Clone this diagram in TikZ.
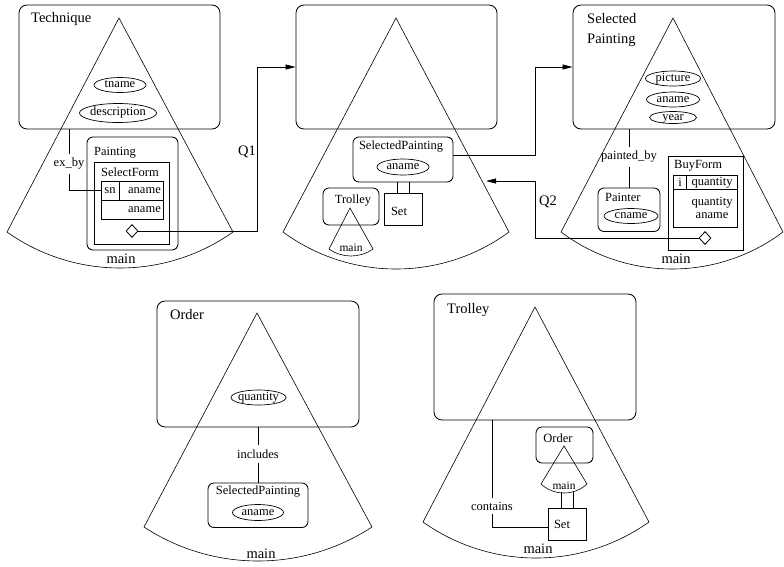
\documentclass[tikz,border=0pt]{standalone}
\usepackage{fontspec}
\setmainfont{Liberation Serif}
\usetikzlibrary{shapes.geometric,arrows.meta}
\newcommand\drawcone[6]{%
  \pgfmathsetmacro\conerad{(#4*#4+#6*#6)/(2*#6)}%
  \pgfmathsetmacro\coneang{asin(#4/\conerad)}%
  \draw[cone] (#1,#2) -- (#3-#4,#5) arc[start angle=90+\coneang, end angle=90-\coneang, radius=\conerad] -- cycle;
}
\begin{document}
\begin{tikzpicture}[x=1pt,y=-1pt,
  box/.style={draw, line width=0.85pt, rectangle, inner sep=0pt},
  panel/.style={box, rounded corners=8pt},
  rbox/.style={box, rounded corners=6pt},
  cone/.style={line width=0.6pt},
  conn/.style={line width=0.8pt},
  arr/.style={conn, -{Triangle[length=10pt,width=5pt]}},
  big/.style={font=\fontsize{14.5}{17}\selectfont, inner sep=0pt},
  lab/.style={font=\fontsize{12.5}{13}\selectfont, inner sep=0pt},
  small/.style={font=\fontsize{11.5}{12}\selectfont, inner sep=0pt},
  attr/.style={draw, line width=0.7pt, ellipse, inner xsep=-6pt, inner ysep=0pt, text height=5.5pt, text depth=0pt, minimum height=15pt, font=\fontsize{12.5}{13}\selectfont},
  gapl/.style={lab, inner ysep=4pt},
  dmd/.style={draw, line width=0.8pt, diamond, inner sep=0pt, minimum width=12pt, minimum height=13pt},
]
\useasboundingbox (0,0) rectangle (784,566);

% ---------------- Panel 1: Technique ----------------
\node[panel, minimum width=201pt, minimum height=124pt] (tech) at (119.5,67) {};
\node[big, anchor=west] (techt) at (31,19) {Technique};
\drawcone{119}{18}{120}{113}{232}{36}
\node[attr, minimum width=52pt] (tname) at (120,85) {tname};
\node[attr, minimum width=77pt, minimum height=19pt] (descr) at (118,113) {description};
\node[rbox, minimum width=91pt, minimum height=113pt] (paint) at (132.5,193.5) {};
\node[lab, anchor=west] (paintt) at (94,153) {Painting};
\node[box, minimum width=75pt, minimum height=82pt] (sform) at (131.5,203) {};
\node[lab, anchor=west] (sformt) at (101,172) {SelectForm};
\node[box, minimum width=62pt, minimum height=38.5pt] (sftab) at (132,200.25) {};
\draw[conn] (sftab.west |- 0,200) -- (sftab.east |- 0,200);
\draw[conn] (119,181) -- (119,200);
\node[lab] (sn) at (110,190.5) {sn};
\node[lab, anchor=east] (an1) at (161,190.5) {aname};
\node[lab, anchor=east] (an2) at (161,210) {aname};
\node[dmd] (d1) at (132,231) {};
\node[gapl] (exby) at (69,164) {ex\_by};
\draw[conn] (tech.south -| exby) -- (exby.north);
\draw[conn] (exby.south) |- (sftab.west |- sn);
\node[big] (main1) at (121,259) {main};

% ---------------- Panel 2 ----------------
\node[panel, minimum width=201pt, minimum height=124pt] (mid) at (396.5,67) {};
\drawcone{396}{18}{396}{113}{232}{37}
\node[rbox, minimum width=100pt, minimum height=45pt] (spm) at (403,159.5) {};
\node[lab] (spmt) at (401,147) {SelectedPainting};
\node[attr, minimum width=52pt, minimum height=16pt] (anm) at (403,167) {aname};
\node[box, minimum width=38pt, minimum height=32pt] (setm) at (403,209) {};
\node[lab] (setmt) at (399,211) {Set};
\draw[conn] ([xshift=-6pt]spm.south) -- ([xshift=-6pt]setm.north);
\draw[conn] ([xshift=6pt]spm.south) -- ([xshift=6pt]setm.north);
\node[rbox, minimum width=56pt, minimum height=37pt] (trm) at (351,206.5) {};
\node[lab] (trmt) at (353,201) {Trolley};
\drawcone{350}{208}{351}{22}{249}{7}
\node[small] (mainm) at (351,248) {main};
\coordinate (q2end) at (486,181);

% ---------------- Panel 3: Selected Painting ----------------
\node[panel, minimum width=202pt, minimum height=124pt] (selp) at (674,67) {};
\node[big, align=left, anchor=north west, font=\fontsize{14.5}{20}\selectfont] (selpt) at (587,13) {Selected\\Painting};
\drawcone{673}{18}{672}{111}{232}{37}
\node[attr, minimum width=55pt] (pic) at (673,78.5) {picture};
\node[attr, minimum width=53pt] (an3) at (673,99.5) {aname};
\node[attr, minimum width=47pt, minimum height=12pt] (year) at (673,117.5) {year};
\node[rbox, minimum width=62pt, minimum height=43.5pt] (painter) at (629,209.75) {};
\node[lab, anchor=west] (paintert) at (605,197) {Painter};
\node[attr, minimum width=54pt] (cname) at (631,216) {cname};
\node[gapl] (pby) at (629,157) {painted\_by};
\draw[conn] (selp.south -| pby) -- (pby.north);
\draw[conn] (pby.south) -- (painter.north);
\node[box, minimum width=75pt, minimum height=94pt] (bform) at (705.5,203) {};
\node[lab, anchor=west] (bformt) at (674,166) {BuyForm};
\node[box, minimum width=64pt, minimum height=52.5pt] (bftab) at (705,201.25) {};
\draw[conn] (bftab.west |- 0,189.3) -- (bftab.east |- 0,189.3);
\draw[conn] (686.7,175) -- (686.7,189.3);
\node[lab] (bi) at (680,182.5) {i};
\node[lab] (bq1) at (712,182.5) {quantity};
\node[lab, align=center, font=\fontsize{12.5}{12.5}\selectfont] (bq2) at (712,208) {quantity\\aname};
\node[dmd] (d2) at (705,238) {};
\node[big] (main3) at (676,259) {main};

% ---------------- Connectors Q1, Q2 ----------------
\coordinate (q1x) at (257,0);
\draw[arr] (d1.east) -| (q1x |- mid.west) -- (mid.west);
\node[big] (q1) at (247,152) {Q1};
\coordinate (q3x) at (535,0);
\draw[arr] ([yshift=4.5pt]spm.east) -| (q3x |- selp.west) -- (selp.west);
\draw[arr] (d2.west) -| (q3x |- q2end) -- (q2end);
\node[big] (q2) at (548,202) {Q2};

% ---------------- Panel 4: Order ----------------
\node[panel, minimum width=202pt, minimum height=126pt] (order) at (258,364) {};
\node[big, anchor=west] (ordert) at (170,315) {Order};
\drawcone{257}{313}{258}{114}{527}{34}
\node[attr, minimum width=55pt] (qty) at (258.5,397.5) {quantity};
\node[rbox, minimum width=100pt, minimum height=44.5pt] (sp4) at (258,505.25) {};
\node[lab] (sp4t) at (258,492) {SelectedPainting};
\node[attr, minimum width=51pt, minimum height=16pt] (an4) at (258,512.5) {aname};
\node[gapl] (incl) at (258,454) {includes};
\draw[conn] (order.south) -- (incl.north);
\draw[conn] (incl.south) -- (sp4.north);
\node[big] (main4) at (261,554) {main};

% ---------------- Panel 5: Trolley ----------------
\node[panel, minimum width=202pt, minimum height=126pt] (troll) at (535,357) {};
\node[big, anchor=west] (trollt) at (447,310) {Trolley};
\drawcone{535}{307}{536}{113}{522}{36}
\node[rbox, minimum width=57pt, minimum height=36pt] (ord5) at (564.5,445) {};
\node[lab] (ord5t) at (558,438) {Order};
\drawcone{564}{446}{564}{23}{484}{9}
\node[small] (main5s) at (564,486) {main};
\coordinate (mc5) at (567,492);
\node[box, minimum width=38pt, minimum height=32pt] (set5) at (567,524) {};
\node[lab] (set5t) at (562,524) {Set};
\draw[conn] ([xshift=-6pt]mc5) -- ([xshift=-6pt]set5.north);
\draw[conn] ([xshift=6pt]mc5) -- ([xshift=6pt]set5.north);
\node[gapl] (cont) at (492,506) {contains};
\draw[conn] (troll.south -| cont) -- (cont.north);
\draw[conn] (cont.south) |- ([yshift=-3pt]set5.west);
\node[big] (main5) at (538,549) {main};
\end{tikzpicture}
\end{document}
